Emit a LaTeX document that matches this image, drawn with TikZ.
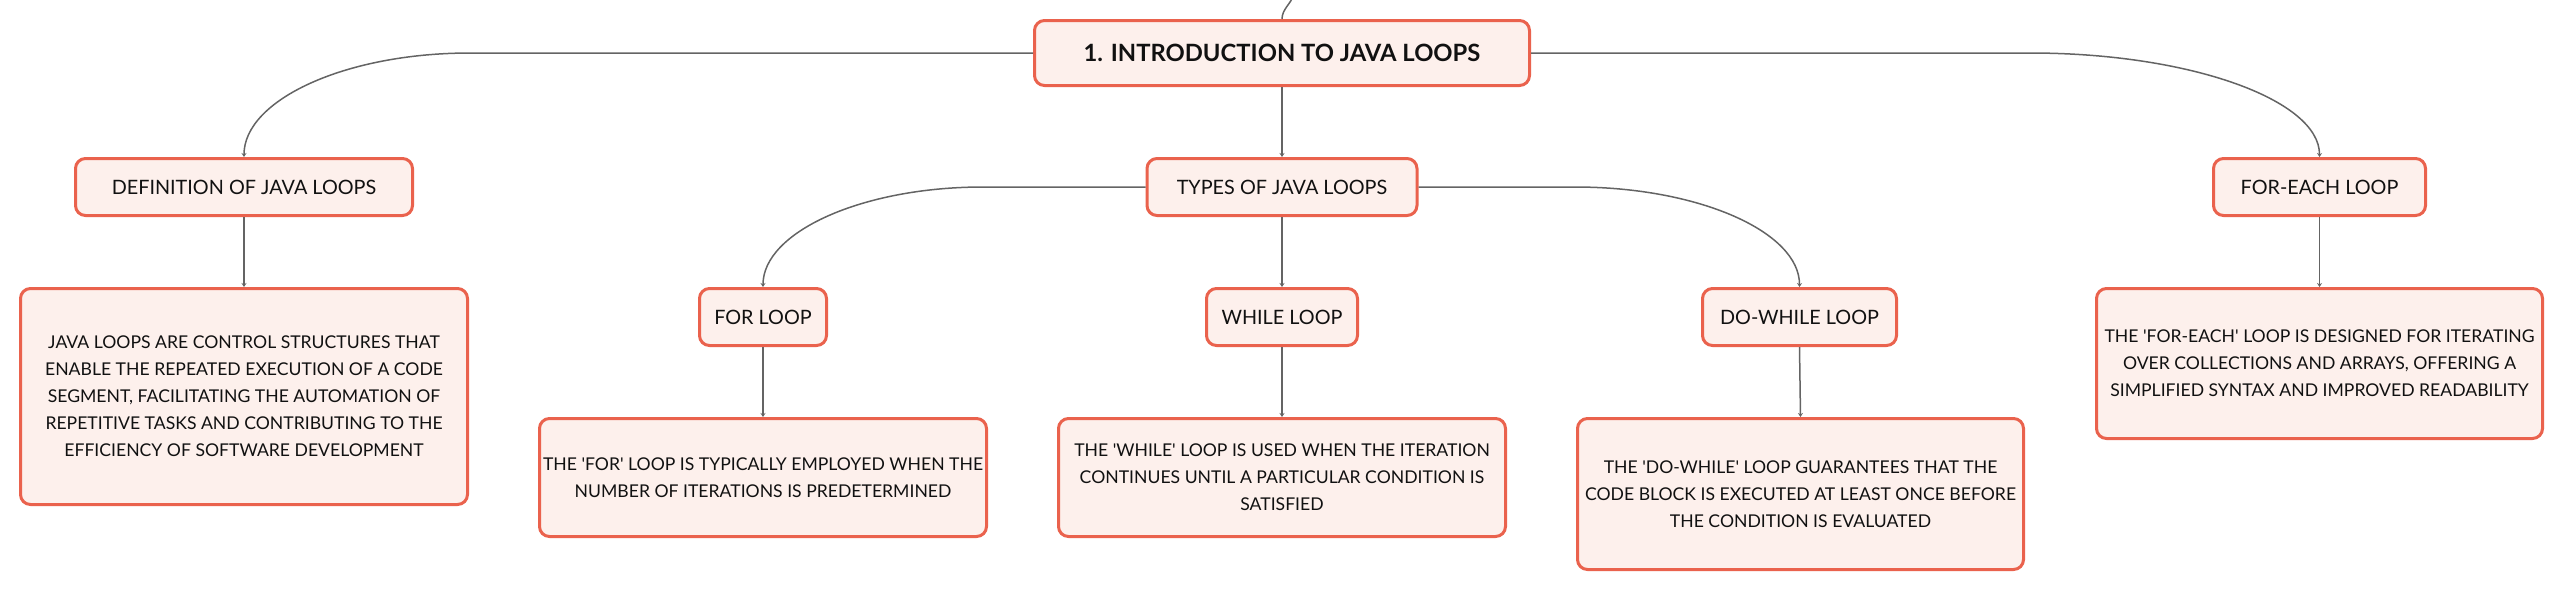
\documentclass[tikz,border=0pt]{standalone}
\usepackage{fontspec}
\setmainfont{Lato}
\usetikzlibrary{arrows.meta}
\definecolor{boxfill}{RGB}{253,240,236}
\definecolor{boxline}{RGB}{234,98,77}
\definecolor{linkgray}{RGB}{100,100,100}
\definecolor{txt}{RGB}{17,17,17}
\newcommand{\sq}{\textquotesingle}
\begin{document}
\begin{tikzpicture}[x=0.5pt,y=-0.5pt,
  mbox/.style={draw=boxline,fill=boxfill,line width=1.5pt,rounded corners=5pt,inner sep=0pt,align=center,text=txt},
  lbl/.style={mbox,minimum height=28.5pt,font=\fontsize{9.9}{12}\selectfont},
  body/.style={mbox,font=\fontsize{8.8}{13.5}\selectfont},
  conn/.style={draw=linkgray,line width=0.75pt,-{Stealth[length=2pt,width=2.5pt]}}]
\useasboundingbox (0,0) rectangle (2565,591);

% nodes
\node[mbox,minimum width=247.5pt,minimum height=32.5pt,font=\fontsize{11.9}{14}\selectfont\bfseries] (root) at (1282,53) {1. INTRODUCTION TO JAVA LOOPS};
\node[lbl,minimum width=168.5pt] (def) at (244,187) {DEFINITION OF JAVA LOOPS};
\node[lbl,minimum width=135pt] (types) at (1282,187) {TYPES OF JAVA LOOPS};
\node[lbl,minimum width=106pt] (each) at (2319.5,187) {FOR-EACH LOOP};
\node[lbl,minimum width=63.5pt] (for) at (763,317) {FOR LOOP};
\node[lbl,minimum width=75.5pt] (while) at (1282,317) {WHILE LOOP};
\node[lbl,minimum width=97pt] (dowhile) at (1799.5,317) {DO-WHILE LOOP};

\node[body,minimum width=223.5pt,minimum height=108pt] (deftext) at (244,396.5) {JAVA LOOPS ARE CONTROL STRUCTURES THAT\\ENABLE THE REPEATED EXECUTION OF A CODE\\SEGMENT, FACILITATING THE AUTOMATION OF\\REPETITIVE TASKS AND CONTRIBUTING TO THE\\EFFICIENCY OF SOFTWARE DEVELOPMENT};
\node[body,minimum width=223.5pt,minimum height=59pt] (fortext) at (763,477.5) {THE \sq FOR\sq{} LOOP IS TYPICALLY EMPLOYED WHEN THE\\NUMBER OF ITERATIONS IS PREDETERMINED};
\node[body,minimum width=223.5pt,minimum height=59pt] (whiletext) at (1282,477.5) {THE \sq WHILE\sq{} LOOP IS USED WHEN THE ITERATION\\CONTINUES UNTIL A PARTICULAR CONDITION IS\\SATISFIED};
\node[body,minimum width=223pt,minimum height=75.5pt] (dotext) at (1800.5,494) {THE \sq DO-WHILE\sq{} LOOP GUARANTEES THAT THE\\CODE BLOCK IS EXECUTED AT LEAST ONCE BEFORE\\THE CONDITION IS EVALUATED};
\node[body,minimum width=223pt,minimum height=75pt] (eachtext) at (2319.5,363.5) {THE \sq FOR-EACH\sq{} LOOP IS DESIGNED FOR ITERATING\\OVER COLLECTIONS AND ARRAYS, OFFERING A\\SIMPLIFIED SYNTAX AND IMPROVED READABILITY};

% bend points
\coordinate (bDef) at (470,53);
\coordinate (bEach) at (2030,53);
\coordinate (bFor) at (983,187);
\coordinate (bDo) at (1575,187);
\coordinate (up) at (1294,-6);

% connectors
\draw[draw=linkgray,line width=0.75pt] (root.north) .. controls +(0,-10) and +(-3,10) .. (up);
\draw[conn] (root.west) -- (bDef) .. controls +(-125,0) and +(0,-57) .. (def.north);
\draw[conn] (root.east) -- (bEach) .. controls +(160,0) and +(0,-57) .. (each.north);
\draw[conn] (root.south) -- (types.north);
\draw[conn] (types.west) -- (bFor) .. controls +(-121,0) and +(0,-55) .. (for.north);
\draw[conn] (types.east) -- (bDo) .. controls +(124,0) and +(0,-55) .. (dowhile.north);
\draw[conn] (types.south) -- (while.north);
\draw[conn] (def.south) -- (deftext.north);
\draw[conn] (for.south) -- (fortext.north);
\draw[conn] (while.south) -- (whiletext.north);
\draw[conn] (dowhile.south) -- (dotext.north);
\draw[conn] (each.south) -- (eachtext.north);
\end{tikzpicture}
\end{document}
